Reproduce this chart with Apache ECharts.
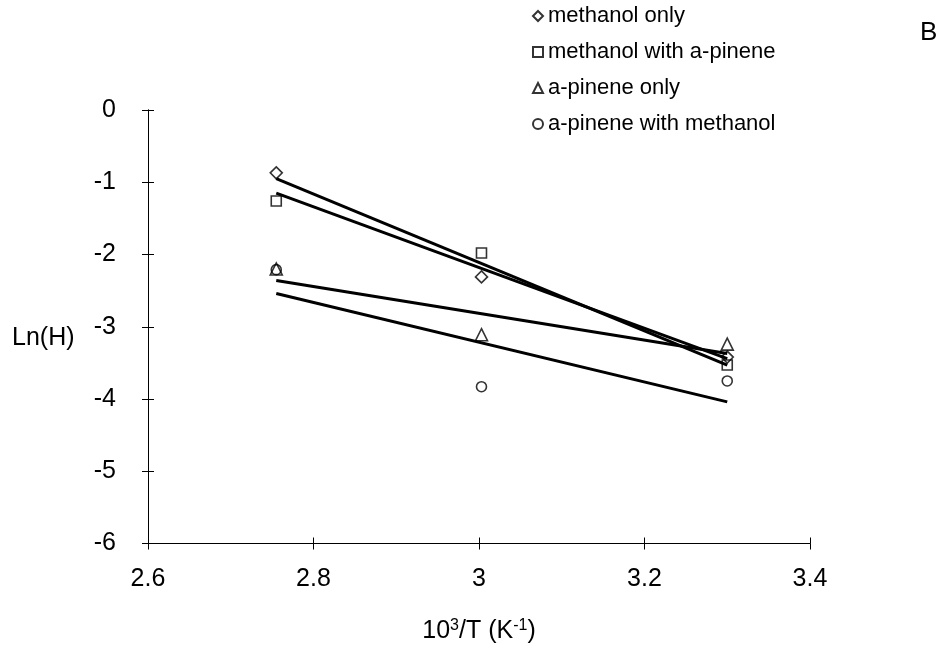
<!DOCTYPE html>
<html>
<head>
<meta charset="utf-8">
<script src="https://cdn.jsdelivr.net/npm/echarts@6/dist/echarts.min.js"></script>
<style>html,body{margin:0;padding:0;background:#fff}#c{width:946px;height:649px}</style>
</head>
<body>
<div id="c"></div>
<script>
// Data
const xVals = [2.755, 3.003, 3.300];
const seriesNames = ['methanol only', 'methanol with a-pinene', 'a-pinene only', 'a-pinene with methanol'];
const methanolOnly = [-0.87, -2.31, -3.42];
const methanolWithPinene = [-1.26, -1.98, -3.53];
const pineneOnly = [-2.20, -3.11, -3.24];
const pineneWithMethanol = [-2.21, -3.83, -3.75];
// Fitted trend line end values (at first and last x)
const fitStart = [-0.95, -1.15, -2.36, -2.54];
const fitEnd = [-3.53, -3.44, -3.37, -4.04];
const xTicks = [2.6, 2.8, 3.0, 3.2, 3.4];
const yTicks = [-6, -5, -4, -3, -2, -1, 0];

const pointSets = [methanolOnly, methanolWithPinene, pineneOnly, pineneWithMethanol];
const symbols = ['diamond', 'rect', 'triangle', 'circle'];
const symSizes = [12, 10, 12, 10];
const font = 'Liberation Sans, Arial, sans-serif';

const series = [];
pointSets.forEach((ys, i) => {
  series.push({
    type: 'line',
    data: [[xVals[0], fitStart[i]], [xVals[xVals.length - 1], fitEnd[i]]],
    symbol: 'none',
    lineStyle: { color: '#000', width: 3 },
    silent: true,
    z: 2
  });
});
pointSets.forEach((ys, i) => {
  series.push({
    name: seriesNames[i],
    type: 'scatter',
    data: xVals.map((x, j) => [x, ys[j]]),
    symbol: symbols[i],
    symbolSize: symSizes[i],
    itemStyle: { color: 'rgba(255,255,255,0)', borderColor: '#000', borderWidth: 1.6 },
    z: 3
  });
});

const chart = echarts.init(document.getElementById('c'));
const axisCommon = {
  type: 'value',
  splitLine: { show: false },
  axisLine: { show: true, onZero: false, lineStyle: { color: '#000', width: 1 } },
};
chart.setOption({
  backgroundColor: '#fff',
  animation: false,
  grid: { left: 148, top: 110, width: 662, height: 434, containLabel: false },
  xAxis: [
    Object.assign({}, axisCommon, {
      min: xTicks[0], max: xTicks[xTicks.length - 1], interval: 0.2,
      axisTick: { show: true, length: 6, lineStyle: { color: '#000' } },
      axisLabel: { color: '#000', fontSize: 25, fontFamily: font, margin: 23,
        formatter: v => String(Math.round(v * 10) / 10) },
      name: '{a|10}{s|3}{a|/T (K}{s|-1}{a|)}',
      nameLocation: 'middle', nameGap: 74,
      nameTextStyle: { rich: {
        a: { fontSize: 25, fontFamily: font, color: '#000' },
        s: { fontSize: 16, fontFamily: font, color: '#000', verticalAlign: 'top', padding: [0, 0, 12, 0] }
      } }
    }),
    Object.assign({}, axisCommon, {
      min: xTicks[0], max: xTicks[xTicks.length - 1], interval: 0.2, position: 'bottom',
      axisTick: { show: true, inside: true, length: 6, lineStyle: { color: '#000' } },
      axisLabel: { show: false }
    })
  ],
  yAxis: [
    Object.assign({}, axisCommon, {
      min: yTicks[0], max: yTicks[yTicks.length - 1], interval: 1,
      axisTick: { show: true, length: 6, lineStyle: { color: '#000' } },
      axisLabel: { color: '#000', fontSize: 25, fontFamily: font, margin: 32 }
    }),
    Object.assign({}, axisCommon, {
      min: yTicks[0], max: yTicks[yTicks.length - 1], interval: 1, position: 'left',
      axisTick: { show: true, inside: true, length: 6, lineStyle: { color: '#000' } },
      axisLabel: { show: false }
    })
  ],
  legend: {
    data: seriesNames,
    orient: 'vertical', left: 527, top: 0,
    itemWidth: 10, itemHeight: 10, itemGap: 14,
    textStyle: { color: '#000', fontSize: 22, fontFamily: font }
  },
  graphic: [
    { type: 'text', left: 12, top: 326,
      style: { text: 'Ln(H)', fontSize: 25, fontFamily: font, fill: '#000' } },
    { type: 'text', left: 920, top: 20,
      style: { text: 'B', fontSize: 26, fontFamily: font, fill: '#000' } }
  ],
  series: series
});
</script>
</body>
</html>
